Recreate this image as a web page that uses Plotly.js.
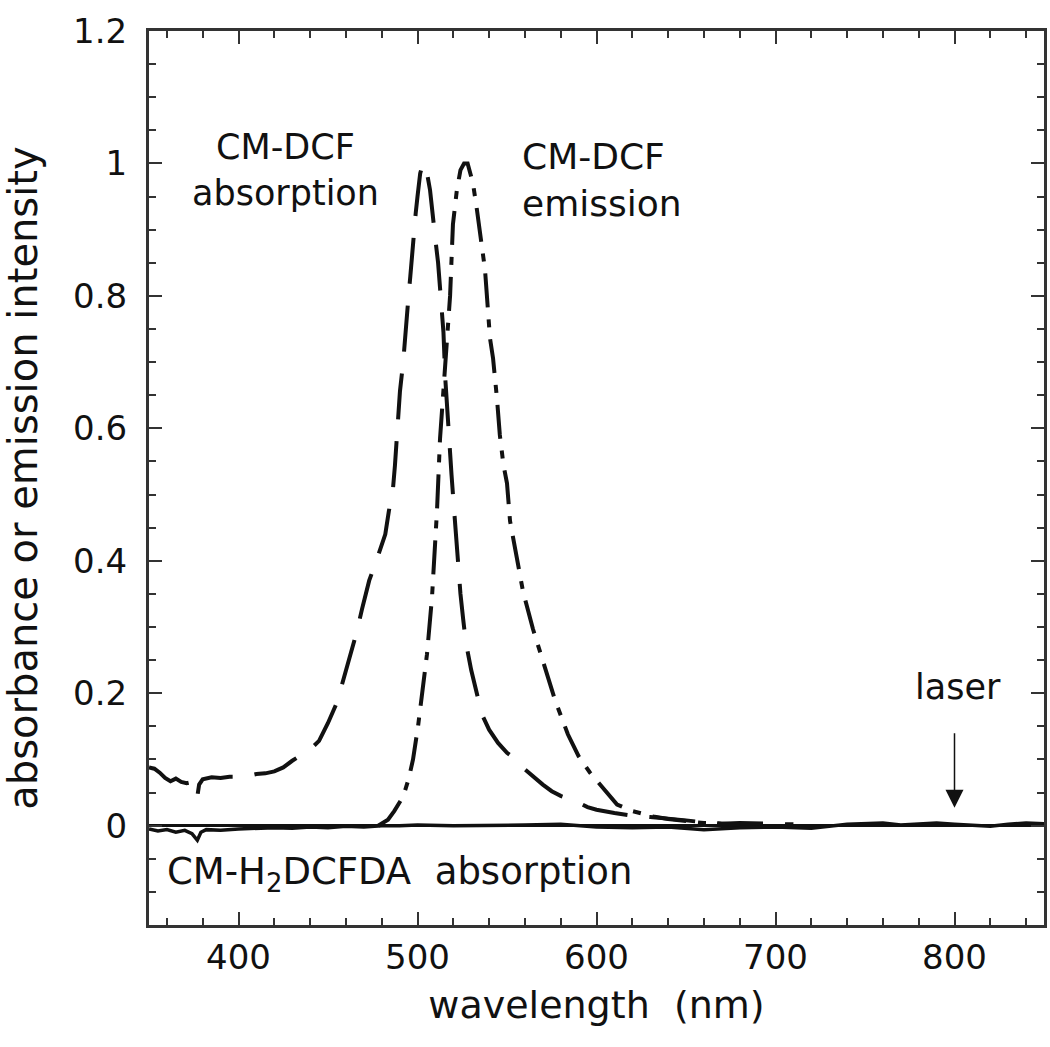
<!DOCTYPE html>
<html>
<head>
<meta charset="utf-8">
<script src="https://cdn.plot.ly/plotly-3.0.1.min.js"></script>
<style>html,body{margin:0;padding:0;background:#fff;}</style>
</head>
<body>
<div id="chart" style="width:1050px;height:1047px;"></div>
<script>
// CM-DCF absorption (long dashed)
const absX = [350,353,356,359,362,365,368,371,374,376,377,378,380,385,390,395,400,405,410,415,420,425,430,435,440,445,450,455,458,462,466,469,473,477,480,482,484,486.3,487.4,489,490.2,492,493,495,496,497,499,500,501.5,503,505,507,508,510,511.5,513,514.5,515.5,517,519,520.5,522,524,525.5,527,530,533,536,540,545,550,555,560,565,570,575,580,585,589,595,600,610,620,630,640,650,660,670,680,690,700,710];
const absY = [0.088,0.086,0.080,0.072,0.067,0.071,0.066,0.064,0.066,0.058,0.044,0.062,0.070,0.073,0.072,0.074,0.074,0.075,0.078,0.079,0.082,0.088,0.098,0.106,0.115,0.128,0.155,0.186,0.215,0.255,0.292,0.327,0.370,0.400,0.425,0.440,0.475,0.509,0.544,0.618,0.656,0.700,0.740,0.800,0.830,0.868,0.925,0.950,0.985,1.000,0.990,0.960,0.930,0.885,0.850,0.790,0.745,0.676,0.603,0.530,0.475,0.418,0.350,0.312,0.277,0.235,0.203,0.168,0.145,0.125,0.110,0.100,0.085,0.073,0.062,0.052,0.045,0.040,0.036,0.028,0.024,0.019,0.015,0.013,0.011,0.008,0.005,0.003,0.004,0.003,0.002,0.002];

// CM-DCF emission (dash-dot)
const emX = [478,481,483.5,487,490,492,495,497.5,500.3,503,505.3,508.1,509.8,510.9,512.6,514.2,516,518.2,519.8,522,524,526,528,531,533.2,535.5,537.7,540.5,542.2,544.4,546,548,550,551.7,555.6,559,564.5,570,576.8,584,590,596.4,603,611.5,620,631.6,640,650,660,670,680];
const emY = [0.0,0.004,0.009,0.022,0.035,0.044,0.070,0.100,0.150,0.206,0.259,0.345,0.423,0.476,0.585,0.641,0.720,0.800,0.908,0.960,0.990,1.000,1.000,0.970,0.930,0.885,0.840,0.736,0.706,0.645,0.590,0.545,0.517,0.460,0.406,0.353,0.297,0.247,0.190,0.138,0.105,0.080,0.058,0.032,0.022,0.014,0.010,0.007,0.004,0.003,0.002];

// CM-H2DCFDA absorption (solid)
const solX = [350,355,360,365,370,374,377,379,382,390,400,410,420,430,440,450,460,470,480,490,500,520,540,560,580,600,620,640,660,680,700,720,740,760,770,780,790,800,810,820,830,840,850];
const solY = [-0.005,-0.008,-0.006,-0.010,-0.007,-0.012,-0.022,-0.010,-0.006,-0.007,-0.005,-0.004,-0.003,-0.004,-0.002,-0.003,-0.001,-0.002,0.0,0.0,0.001,0.0,0.0,0.001,0.002,-0.002,-0.003,-0.002,-0.006,-0.003,-0.002,-0.004,0.002,0.004,0.001,0.003,0.004,0.002,0.0,-0.001,0.002,0.004,0.003];

const yTickVals = [0,0.2,0.4,0.6,0.8,1,1.2];
const yTickText = ['0','0.2','0.4','0.6','0.8','1','1.2'];
const xTickVals = [400,500,600,700,800];
const xTickText = ['400','500','600','700','800'];

const FONT = 'DejaVu Sans, Liberation Sans, Arial, sans-serif';
const INK = '#111111';

const traces = [
  {x: solX, y: solY, mode: 'lines', line: {color: INK, width: 3.5}, hoverinfo: 'skip'},
  {x: absX, y: absY, mode: 'lines', line: {color: INK, width: 4, dash: '46px,22px'}, hoverinfo: 'skip'},
  {x: emX, y: emY, mode: 'lines', line: {color: INK, width: 4, dash: '34px,12px,8px,12px'}, hoverinfo: 'skip'}
];

const axisCommon = {
  showline: true, linewidth: 3, linecolor: '#333',
  mirror: 'ticks', ticks: 'inside', ticklen: 13, tickwidth: 2, tickcolor: '#333',
  showgrid: false, tickfont: {family: FONT, size: 34, color: INK}
};

const layout = {
  width: 1050, height: 1047,
  margin: {l: 149, r: 6, t: 31, b: 122},
  paper_bgcolor: '#fff', plot_bgcolor: '#fff',
  showlegend: false,
  font: {family: FONT, color: INK},
  xaxis: Object.assign({}, axisCommon, {
    range: [350, 850], tickvals: xTickVals, ticktext: xTickText,
    zeroline: false,
    minor: {dtick: 20, tick0: 0, ticks: 'inside', ticklen: 7, tickwidth: 2, tickcolor: '#333'},
    ticklabelstandoff: 0,
    title: {text: 'wavelength\u00a0 (nm)', font: {family: FONT, size: 38, color: INK}, standoff: 16}
  }),
  yaxis: Object.assign({}, axisCommon, {
    range: [-0.15, 1.2], tickvals: yTickVals, ticktext: yTickText,
    zeroline: true, zerolinecolor: INK, zerolinewidth: 2.5,
    minor: {dtick: 0.05, tick0: 0, ticks: 'inside', ticklen: 7, tickwidth: 2, tickcolor: '#333'},
    ticklabelstandoff: 12,
    title: {text: 'absorbance or emission intensity', font: {family: FONT, size: 40, color: INK}, standoff: 27}
  }),
  annotations: [
    {x: 426, y: 0.99, xref: 'x', yref: 'y', text: 'CM-DCF<br>absorption', showarrow: false,
     align: 'center', xanchor: 'center', yanchor: 'middle', font: {family: FONT, size: 35, color: INK}},
    {x: 557, y: 0.975, xref: 'x', yref: 'y', text: 'CM-DCF<br>emission', showarrow: false,
     align: 'left', xanchor: 'left', yanchor: 'middle', font: {family: FONT, size: 36, color: INK}},
    {x: 802, y: 0.21, xref: 'x', yref: 'y', text: 'laser', showarrow: false,
     xanchor: 'center', yanchor: 'middle', font: {family: FONT, size: 35, color: INK}},
    {x: 800, y: 0.027, ax: 800, ay: 0.142, xref: 'x', yref: 'y', axref: 'x', ayref: 'y',
     text: '', showarrow: true, arrowhead: 2, arrowsize: 2.4, arrowwidth: 1.5, arrowcolor: INK},
    {x: 359, y: -0.073, xref: 'x', yref: 'y', text: 'CM-H<sub>2</sub>DCFDA\u00a0 absorption', showarrow: false,
     xanchor: 'left', yanchor: 'middle', font: {family: FONT, size: 37, color: INK}}
  ]
};

Plotly.newPlot('chart', traces, layout, {displayModeBar: false, staticPlot: true});
</script>
</body>
</html>
